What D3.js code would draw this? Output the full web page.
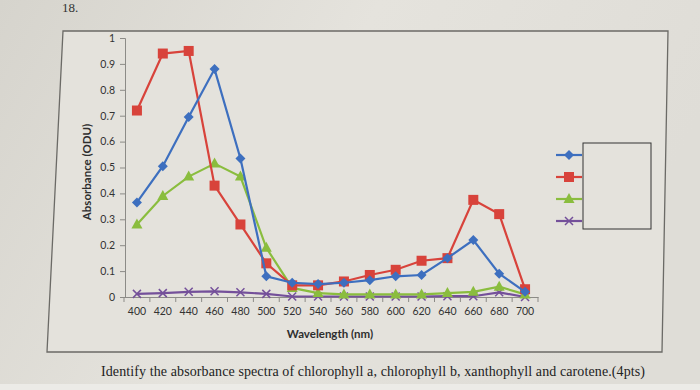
<!DOCTYPE html>
<html><head><meta charset="utf-8">
<script src="https://cdn.jsdelivr.net/npm/d3@7"></script>
<style>
html,body{margin:0;padding:0;background:#e2e0da;}
svg{display:block;}
</style></head>
<body>
<svg id="c" width="700" height="390"></svg>
<script>
const wavelengths = [400,420,440,460,480,500,520,540,560,580,600,620,640,660,680,700];
const seriesBlue   = [0.365,0.505,0.695,0.88,0.535,0.08,0.055,0.05,0.055,0.065,0.08,0.085,0.15,0.22,0.09,0.02];
const seriesRed    = [0.72,0.94,0.95,0.43,0.28,0.13,0.045,0.045,0.06,0.085,0.105,0.14,0.15,0.375,0.32,0.03];
const seriesGreen  = [0.28,0.39,0.465,0.515,0.465,0.19,0.035,0.015,0.01,0.01,0.01,0.01,0.015,0.02,0.04,0.01];
const seriesPurple = [0.012,0.015,0.02,0.022,0.018,0.012,0.002,0.002,0.002,0.002,0.002,0.002,0.003,0.003,0.018,0.0];
const yTicks = [0,0.1,0.2,0.3,0.4,0.5,0.6,0.7,0.8,0.9,1];
const yTitle = "Absorbance (ODU)";
const xTitle = "Wavelength (nm)";
const question = "Identify the absorbance spectra of chlorophyll a, chlorophyll b, xanthophyll and carotene.(4pts)";

const series = [
  {values: seriesBlue,   color:"#3d6fbf", sym:"diamond"},
  {values: seriesRed,    color:"#d8433b", sym:"square"},
  {values: seriesGreen,  color:"#8abd3e", sym:"triangle"},
  {values: seriesPurple, color:"#74509a", sym:"cross"}
];

const svg = d3.select("#c");
const defs = svg.append("defs");
const g = defs.append("linearGradient").attr("id","paper").attr("x1","0").attr("x2","1").attr("y1","0").attr("y2","0.3");
g.append("stop").attr("offset","0").attr("stop-color","#d6d4cd");
g.append("stop").attr("offset","0.5").attr("stop-color","#e5e3dd");
g.append("stop").attr("offset","1").attr("stop-color","#dfddd7");
svg.append("rect").attr("width",700).attr("height",390).attr("fill","url(#paper)");
svg.append("rect").attr("x",0).attr("y",384).attr("width",700).attr("height",6).attr("fill","#ecebe7");

// question number
svg.append("text").attr("x",62).attr("y",12).attr("font-family","Liberation Serif, serif")
  .attr("font-size",13).attr("fill","#333").text("18.");

// chart frame (photographed page, slightly skewed)
svg.append("path").attr("d","M63,31 L668,31 L662,352 L47,352 Z")
  .attr("fill","#e4e2dc").attr("stroke","#6b6a66").attr("stroke-width",1.3);

const x = d3.scaleBand().domain(wavelengths).range([124,538]).paddingInner(0).paddingOuter(0);
const xc = d => x(d) + x.bandwidth()/2;
const y = d3.scaleLinear().domain([0,1]).range([297,38]);

// y axis
const yAxis = svg.append("g").attr("transform","translate(125,0)")
  .call(d3.axisLeft(y).tickValues(yTicks).tickSize(5).tickPadding(5)
    .tickFormat(d => d===0?"0":d===1?"1":d3.format(".1f")(d)));
yAxis.select(".domain").attr("stroke","#8c8b87");
yAxis.selectAll(".tick line").attr("stroke","#8c8b87");
yAxis.selectAll("text").attr("font-family","Lato, 'Open Sans', sans-serif").attr("font-size",10.5).attr("fill","#333");

// x axis
const xAxis = svg.append("g").attr("transform","translate(0,297)")
  .call(d3.axisBottom(x).tickSize(0).tickPadding(11));
xAxis.select(".domain").attr("stroke","#8c8b87");
xAxis.selectAll("text").attr("font-family","Lato, 'Open Sans', sans-serif").attr("font-size",10.5).attr("fill","#333");
svg.append("g").selectAll("line").data(wavelengths.concat([null])).join("line")
  .attr("x1",(d,i)=>124+i*x.bandwidth()).attr("x2",(d,i)=>124+i*x.bandwidth())
  .attr("y1",297).attr("y2",302).attr("stroke","#8c8b87");

// titles
svg.append("text").attr("transform","translate(91,172) rotate(-90)").attr("text-anchor","middle")
  .attr("font-family","Lato, 'Open Sans', sans-serif").attr("font-weight","bold").attr("font-size",11.5)
  .attr("fill","#2e2e2e").text(yTitle);
svg.append("text").attr("x",330).attr("y",338).attr("text-anchor","middle")
  .attr("font-family","Lato, 'Open Sans', sans-serif").attr("font-weight","bold").attr("font-size",11.5)
  .attr("fill","#2e2e2e").text(xTitle);

// question
svg.append("text").attr("x",101).attr("y",376)
  .attr("font-family","Liberation Serif, 'Times New Roman', serif").attr("font-size",14)
  .attr("fill","#222").attr("textLength",544).text(question);

function marker(sel, s, cx, cy){
  const c = s.color;
  if(s.sym==="square"){
    sel.append("rect").attr("x",cx-5).attr("y",cy-5).attr("width",10).attr("height",10).attr("fill",c);
  } else if(s.sym==="diamond"){
    sel.append("path").attr("d",`M${cx},${cy-5} L${cx+5},${cy} L${cx},${cy+5} L${cx-5},${cy} Z`).attr("fill",c);
  } else if(s.sym==="triangle"){
    sel.append("path").attr("d",`M${cx},${cy-6} L${cx+5.5},${cy+4} L${cx-5.5},${cy+4} Z`).attr("fill",c);
  } else {
    sel.append("path").attr("d",`M${cx-4},${cy-4} L${cx+4},${cy+4} M${cx-4},${cy+4} L${cx+4},${cy-4}`)
      .attr("stroke",c).attr("stroke-width",1.5);
  }
}

const line = d3.line().x((d,i)=>xc(wavelengths[i])).y(d=>y(d));
series.slice().reverse().forEach(s=>{
  const gg = svg.append("g");
  gg.append("path").attr("d",line(s.values)).attr("fill","none").attr("stroke",s.color).attr("stroke-width",2.2);
  s.values.forEach((v,i)=>marker(gg, s, xc(wavelengths[i]), y(v)));
});

// legend
const legY = d3.scalePoint().domain(d3.range(series.length)).range([155,221]);
series.forEach((s,i)=>{
  const ly = legY(i);
  svg.append("line").attr("x1",556).attr("x2",582).attr("y1",ly).attr("y2",ly)
    .attr("stroke",s.color).attr("stroke-width",2.2);
  marker(svg, s, 569, ly);
});
svg.append("rect").attr("x",583).attr("y",143).attr("width",68).attr("height",86)
  .attr("fill","none").attr("stroke","#333").attr("stroke-width",1);
</script>
</body></html>
